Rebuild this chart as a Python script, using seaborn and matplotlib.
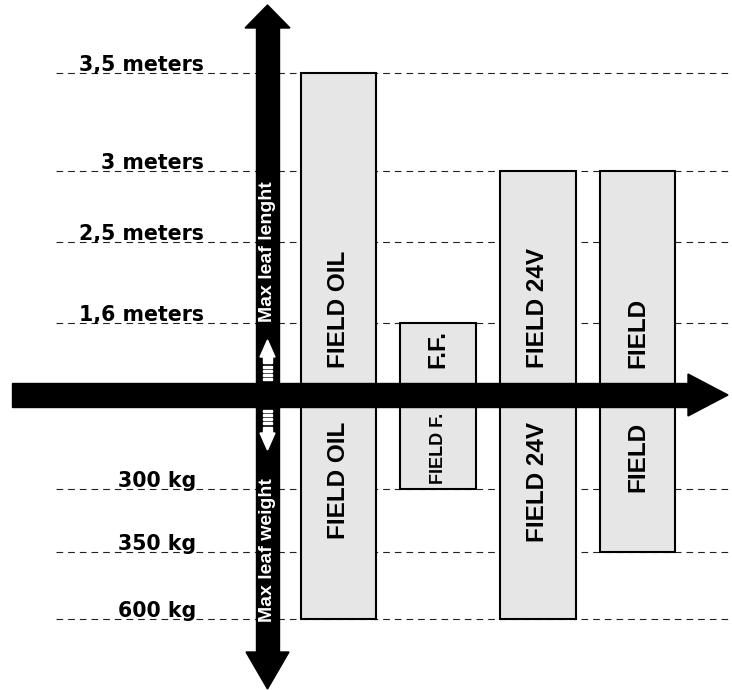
import numpy as np
import pandas as pd
import matplotlib
matplotlib.use("Agg")
import matplotlib.pyplot as plt
import matplotlib.transforms as mtransforms
from matplotlib.patches import Polygon, Rectangle
import seaborn as sns

# --- Data ---
products = ["FIELD OIL", "FIELD F.", "FIELD 24V", "FIELD"]
top_labels = ["FIELD OIL", "F.F.", "FIELD 24V", "FIELD"]
bottom_labels = ["FIELD OIL", "FIELD F.", "FIELD 24V", "FIELD"]
max_length_m = [3.5, 1.6, 3.0, 3.0]
max_weight_kg = [600, 300, 600, 350]

length_ticks = [1.6, 2.5, 3.0, 3.5]
length_tick_labels = ["1,6 meters", "2,5 meters", "3 meters", "3,5 meters"]
weight_ticks = [300, 350, 600]
weight_tick_labels = ["300 kg", "350 kg", "600 kg"]

# --- Schematic scale ---
# the drawing is not to scale: every level gets its own height (pixels from the axis)
m_knots = [0, 1.6, 2.5, 3.0, 3.5, 4.5]
m_pix = [0, 72, 153, 224, 322, 420]
kg_knots = [0, 300, 350, 600, 1000]
kg_pix = [0, 94, 157, 224, 320]


def forward(v):
    v = np.asarray(v, dtype=float)
    return np.where(v >= 0, np.interp(v, m_knots, m_pix), -np.interp(-v, kg_knots, kg_pix))


def inverse(p):
    p = np.asarray(p, dtype=float)
    return np.where(p >= 0, np.interp(p, m_pix, m_knots), -np.interp(-p, kg_pix, kg_knots))


W, H = 732, 690
axis_y = 395          # horizontal arrow, pixels from top
x0_px, step_px = 338.5, 99.7   # first bar centre and bar spacing

sns.set_style("white")
plt.rcParams["font.family"] = ["Liberation Sans", "DejaVu Sans"]
plt.rcParams["text.color"] = "black"

fig = plt.figure(figsize=(W / 100, H / 100), dpi=100)
ax = fig.add_axes([0, 0, 1, 1])

df = pd.DataFrame({"product": products,
                   "length": max_length_m,
                   "weight": [-w for w in max_weight_kg]})

bar_kw = dict(color="#e6e6e6", saturation=1, edgecolor="black", linewidth=1.5,
              width=0.76, ax=ax, zorder=2)
sns.barplot(data=df, x="product", y="length", **bar_kw)
sns.barplot(data=df, x="product", y="weight", **bar_kw)

ax.set_yscale("function", functions=(forward, inverse))
ax.set_ylim(float(inverse(-(H - axis_y))), float(inverse(axis_y)))
ax.set_xlim(-x0_px / step_px, (W - x0_px) / step_px)
ax.axis("off")

# overlay in pixel coordinates for the arrows
ov = fig.add_axes([0, 0, 1, 1], zorder=3)
ov.set_xlim(0, W)
ov.set_ylim(H, 0)
ov.axis("off")

# dashed level lines and their labels
dash = dict(color="#222222", lw=0.8, ls=(0, (6, 4.5)), zorder=1)
lab_trans = mtransforms.offset_copy(
    mtransforms.blended_transform_factory(ov.transData, ax.transData),
    fig=fig, y=2, units="dots")
lab_kw = dict(ha="right", va="baseline", fontsize=14.8, fontweight="bold",
              family="DejaVu Sans", color="black", zorder=4)
for lv, txt in zip(length_ticks, length_tick_labels):
    ax.axhline(lv, xmin=56 / W, xmax=1, **dash)
    ax.text(204, lv, txt, transform=lab_trans, **lab_kw)
for lv, txt in zip(weight_ticks, weight_tick_labels):
    ax.axhline(-lv, xmin=56 / W, xmax=1, **dash)
    ax.text(196, -lv, txt, transform=lab_trans, **lab_kw)

# bar labels
bar_trans = mtransforms.blended_transform_factory(ax.transData, ov.transData)
bottom_sizes = [17.5, 13, 17.5, 17.5]
bottom_ends = [422, 413, 422, 422]
for i, txt in enumerate(top_labels):
    ax.text(i, 368, txt, transform=bar_trans, rotation=90, rotation_mode="anchor",
            ha="left", va="center", fontsize=17.5, fontweight="bold",
            color="black", zorder=4)
for i, txt in enumerate(bottom_labels):
    ax.text(i, bottom_ends[i], txt, transform=bar_trans, rotation=90, rotation_mode="anchor",
            ha="right", va="center", fontsize=bottom_sizes[i], fontweight="bold",
            color="black", zorder=4)

# big arrows
ov.add_patch(Rectangle((256, 27), 23, 626, color="black"))
ov.add_patch(Polygon([(245, 28), (290, 28), (267.5, 5)], color="black"))
ov.add_patch(Polygon([(246, 652), (289, 652), (267.5, 689)], color="black"))
ov.add_patch(Rectangle((12, 383), 677, 24, color="black"))
ov.add_patch(Polygon([(688, 374), (688, 416), (728, 395)], color="black"))

# small white striped arrows inside the vertical arrow
for sign in (1, -1):
    def yy(y):
        return y if sign == 1 else 2 * axis_y - y
    ov.add_patch(Polygon([(260, yy(357)), (275, yy(357)), (267.5, yy(340))], color="white"))
    ov.add_patch(Rectangle((263, min(yy(357), yy(363))), 9, 6, color="white"))
    for ys in (366, 370, 374, 378):
        ov.add_patch(Rectangle((263, min(yy(ys), yy(ys + 2.2))), 9, 2.2, color="white"))

ov.text(267.5, 252, "Max leaf lenght", rotation=90, ha="center", va="center",
        color="white", fontsize=14, fontweight="bold")
ov.text(267.5, 550, "Max leaf weight", rotation=90, ha="center", va="center",
        color="white", fontsize=14, fontweight="bold")

fig.savefig("out.png", dpi=100)
